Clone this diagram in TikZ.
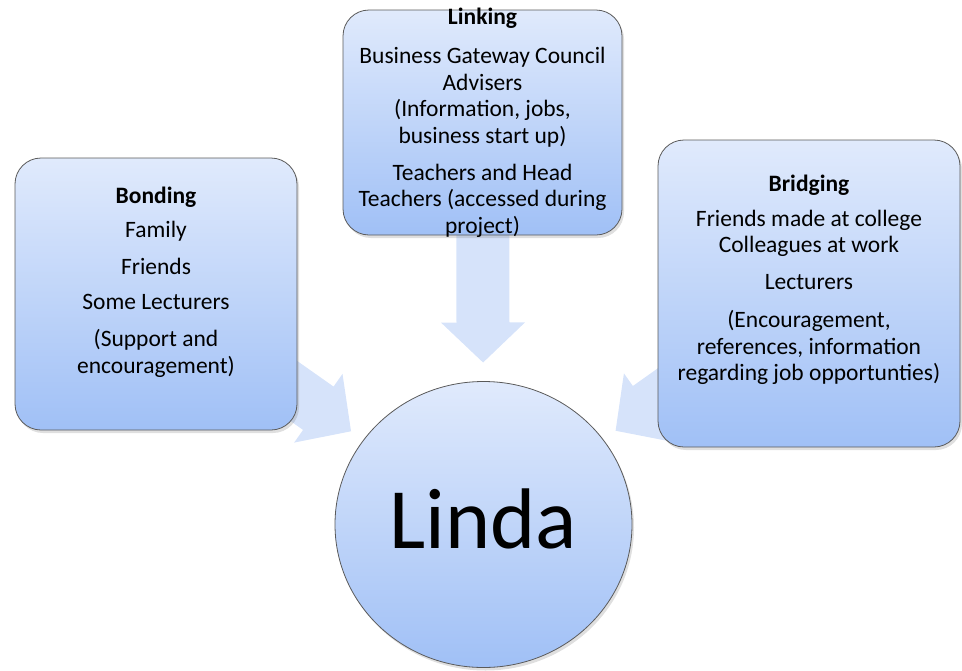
\documentclass[tikz,border=0pt]{standalone}
\usepackage{fontspec}
\setmainfont{Carlito}
\usetikzlibrary{shapes.geometric, positioning, calc, shadows, backgrounds}
\definecolor{boxtop}{RGB}{224, 234, 252}
\definecolor{boxbottom}{RGB}{160, 192, 246}
\definecolor{arrowblue}{RGB}{214, 227, 250}
\definecolor{edgegray}{RGB}{90, 90, 90}

% block arrow from the centre of #1 towards #2
\newcommand{\flowarrow}[2]{%
  \coordinate (tip) at ($(#2.center)!162pt!(#1.center)$);
  \coordinate (neck) at ($(tip)!40pt!(#1.center)$);
  \fill[arrowblue] (tip)
    -- ($(neck)!42pt!90:(tip)$) -- ($(neck)!26.5pt!90:(tip)$)
    -- ($(#1.center)!26.5pt!90:(tip)$) -- ($(#1.center)!26.5pt!-90:(tip)$)
    -- ($(neck)!26.5pt!-90:(tip)$) -- ($(neck)!42pt!-90:(tip)$) -- cycle;}

\begin{document}
\begin{tikzpicture}[x=1pt, y=-1pt,
  capbox/.style={draw=edgegray, line width=0.8pt, rounded corners=26pt,
    top color=boxtop, bottom color=boxbottom,
    drop shadow={opacity=0.25, shadow xshift=2pt, shadow yshift=-3pt}},
  captext/.style={align=center, inner sep=0pt,
    font=\fontsize{23.5}{26.5}\selectfont}]
  \useasboundingbox (0,0) rectangle (962,670);

  % the three boxes and Linda
  \node[capbox, minimum width=282pt, minimum height=272pt] (bonding) at (156,294) {};
  \node[capbox, minimum width=279pt, minimum height=225pt] (linking) at (482.5,122.5) {};
  \node[capbox, minimum width=302pt, minimum height=307pt] (bridging) at (809,293.5) {};
  \node[ellipse, draw=edgegray, line width=0.8pt, top color=boxtop, bottom color=boxbottom,
    drop shadow={opacity=0.25, shadow xshift=2pt, shadow yshift=-3pt},
    minimum width=297pt, minimum height=286pt, inner sep=0pt, text depth=12pt,
    font=\fontsize{86}{90}\selectfont] (linda) at (483.5,524.5) {Linda};

  \node[captext] (bondingtext) at (156,282) {%
    \textbf{Bonding}\\[7.5pt]
    Family\\[10.5pt]
    Friends\\[8.5pt]
    Some Lecturers\\[11pt]
    (Support and\\
    encouragement)};
  \node[captext] (linkingtext) at (482.5,123) {%
    \textbf{Linking}\\[12.5pt]
    Business Gateway Council\\
    Advisers\\
    (Information, jobs,\\
    business start up)\\[10.5pt]
    Teachers and Head\\
    Teachers (accessed during\\
    project)};
  \node[captext] (bridgingtext) at (809,280) {%
    \textbf{Bridging}\\[8.5pt]
    Friends made at college\\
    Colleagues at work\\[10.5pt]
    Lecturers\\[11.5pt]
    (Encouragement,\\
    references, information\\
    regarding job opportunties)};

  % arrows behind the boxes
  \begin{scope}[on background layer]
    \flowarrow{bonding}{linda}
    \flowarrow{linking}{linda}
    \flowarrow{bridging}{linda}
  \end{scope}
\end{tikzpicture}
\end{document}
